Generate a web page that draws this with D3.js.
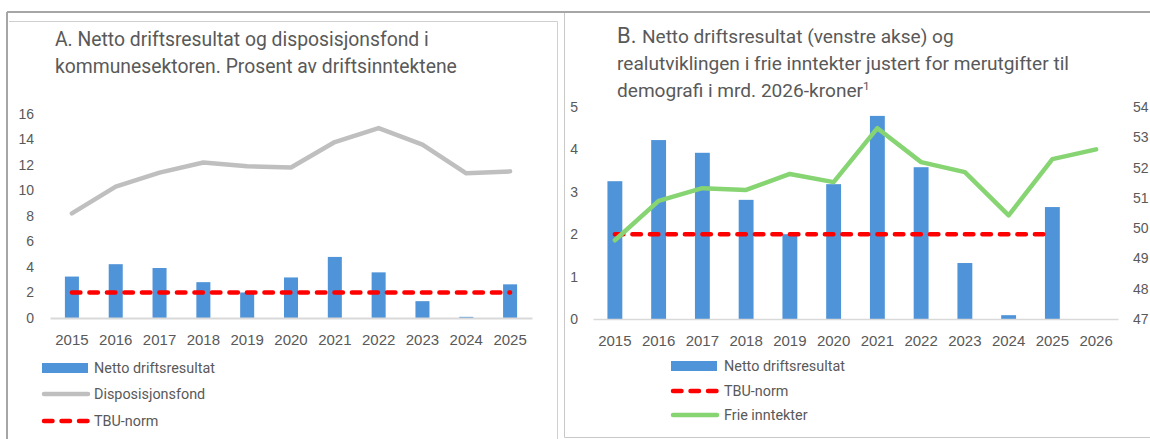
<!DOCTYPE html>
<html>
<head>
<meta charset="utf-8">
<script src="https://cdn.jsdelivr.net/npm/d3@7"></script>
<style>
  body { margin: 0; background: #fff; }
  svg text { fill: #595959; }
  .tick text { font-family: "Liberation Sans", Arial, sans-serif; }
  .title, .legend-label { font-family: Roboto, "Open Sans", sans-serif; }
</style>
</head>
<body>
<div id="graphic"></div>
<script>
(function(d3){

    // Categories
    let yearsA = [2015, 2016, 2017, 2018, 2019, 2020, 2021, 2022, 2023, 2024, 2025];
    let yearsB = [2015, 2016, 2017, 2018, 2019, 2020, 2021, 2022, 2023, 2024, 2025, 2026];

    // Series
    let nettoDriftsresultat = [3.25, 4.22, 3.92, 2.81, 2.0, 3.18, 4.79, 3.58, 1.32, 0.09, 2.64];
    let disposisjonsfond = [8.2, 10.3, 11.4, 12.2, 11.9, 11.8, 13.8, 14.9, 13.6, 11.35, 11.5];
    let tbuNorm = [2, 2, 2, 2, 2, 2, 2, 2, 2, 2, 2];
    let frieInntekter = [49.6, 50.9, 51.32, 51.26, 51.79, 51.52, 53.3, 52.18, 51.85, 50.42, 52.28, 52.6];

    // Tick values
    let ticksA = [0, 2, 4, 6, 8, 10, 12, 14, 16];
    let ticksBLeft = [0, 1, 2, 3, 4, 5];
    let ticksBRight = [47, 48, 49, 50, 51, 52, 53, 54];

    // Titles and legend labels
    let titleA = ['A. Netto driftsresultat og disposisjonsfond i',
                  'kommunesektoren. Prosent av driftsinntektene'];
    let titleB = ['Netto driftsresultat (venstre akse) og',
                  'realutviklingen i frie inntekter justert for merutgifter til',
                  'demografi i mrd. 2026-kroner'];
    let legendA = ['Netto driftsresultat', 'Disposisjonsfond', 'TBU-norm'];
    let legendB = ['Netto driftsresultat', 'TBU-norm', 'Frie inntekter'];

    // Colours
    let blue = '#4f93d8', gray = '#bfbfbf', red = '#ff0000', green = '#86d472';
    let dash = '8.5 9';

    let width = 1150, height = 439;

    let svg = d3.select('#graphic')
                .append('svg')
                .attr('width', width)
                .attr('height', height);

    // Frames around the two panels
    function frameLine(x1, y1, x2, y2, color, w) {
        svg.append('line')
           .attr('x1', x1).attr('y1', y1).attr('x2', x2).attr('y2', y2)
           .attr('stroke', color).attr('stroke-width', w);
    }
    frameLine(7, 12, width, 12, '#a6a6a6', 2);
    frameLine(7, 12, 7, height, '#a6a6a6', 2);
    frameLine(9, 21.5, 557.5, 21.5, '#d0d0d0', 1);
    frameLine(557.5, 21.5, 557.5, height, '#d0d0d0', 1);
    frameLine(564.5, 13, 564.5, 437.5, '#c8c8c8', 1);
    frameLine(564.5, 437.5, width, 437.5, '#c8c8c8', 1);

    // Fit a group of text lines so the longest has the target width
    function fitLines(sel, target) {
        let maxLen = 0;
        sel.each(function() { maxLen = Math.max(maxLen, this.getComputedTextLength()); });
        let fs = parseFloat(sel.style('font-size'));
        sel.style('font-size', (fs * target / maxLen) + 'px');
        return fs * target / maxLen;
    }

    function styleAxis(g, size) {
        g.select('.domain').remove();
        g.selectAll('.tick line').remove();
        g.selectAll('.tick text').style('font-size', size + 'px').attr('fill', '#595959');
    }

    // ---------- Panel A ----------
    let xA = d3.scaleBand().domain(yearsA).range([50, 532])
               .paddingInner(0.68).paddingOuter(0.34);
    let yA = d3.scaleLinear().domain([0, 16]).range([318, 114]);
    let cxA = (d, i) => xA(yearsA[i]) + xA.bandwidth() / 2;

    svg.append('g')
       .attr('transform', 'translate(50,0)')
       .call(d3.axisLeft(yA).tickValues(ticksA).tickFormat(d3.format('d')).tickSize(0).tickPadding(16))
       .call(g => styleAxis(g, 14));

    svg.append('g').selectAll('rect')
       .data(nettoDriftsresultat)
       .join('rect')
       .attr('x', (d, i) => xA(yearsA[i]))
       .attr('width', xA.bandwidth())
       .attr('y', d => yA(d))
       .attr('height', d => yA(0) - yA(d))
       .attr('fill', blue);

    let xAxisA = svg.append('g')
       .attr('transform', 'translate(0,318)')
       .call(d3.axisBottom(xA).tickSize(0).tickSizeOuter(0).tickPadding(16));
    xAxisA.select('.domain').attr('stroke', '#d9d9d9').attr('stroke-width', 2);
    xAxisA.selectAll('.tick text').style('font-size', '15px').attr('fill', '#595959');

    svg.append('path')
       .datum(disposisjonsfond)
       .attr('d', d3.line().x(cxA).y(d => yA(d)))
       .attr('fill', 'none')
       .attr('stroke', gray)
       .attr('stroke-width', 4.5)
       .attr('stroke-linejoin', 'round')
       .attr('stroke-linecap', 'round');

    svg.append('path')
       .datum(tbuNorm)
       .attr('d', d3.line().x(cxA).y(d => yA(d)))
       .attr('fill', 'none')
       .attr('stroke', red)
       .attr('stroke-width', 4.5)
       .attr('stroke-dasharray', dash)
       .attr('stroke-linecap', 'round');

    let tA = svg.append('g').selectAll('text')
       .data(titleA)
       .join('text')
       .attr('class', 'title')
       .attr('x', 55)
       .attr('y', (d, i) => 46 + i * 26.5)
       .style('font-size', '18px')
       .text(d => d);
    fitLines(tA, 402);

    // ---------- Panel B ----------
    let xB = d3.scaleBand().domain(yearsB).range([593, 1118])
               .paddingInner(0.66).paddingOuter(0.33);
    let yB = d3.scaleLinear().domain([0, 5]).range([319, 107]);
    let yB2 = d3.scaleLinear().domain([47, 54]).range([319, 107]);
    let cxB = (d, i) => xB(yearsB[i]) + xB.bandwidth() / 2;

    svg.append('g')
       .attr('transform', 'translate(593,0)')
       .call(d3.axisLeft(yB).tickValues(ticksBLeft).tickFormat(d3.format('d')).tickSize(0).tickPadding(15))
       .call(g => styleAxis(g, 14));

    svg.append('g')
       .attr('transform', 'translate(1118,0)')
       .call(d3.axisRight(yB2).tickValues(ticksBRight).tickFormat(d3.format('d')).tickSize(0).tickPadding(15))
       .call(g => styleAxis(g, 14));

    svg.append('g').selectAll('rect')
       .data(nettoDriftsresultat)
       .join('rect')
       .attr('x', (d, i) => xB(yearsB[i]))
       .attr('width', xB.bandwidth())
       .attr('y', d => yB(d))
       .attr('height', d => yB(0) - yB(d))
       .attr('fill', blue);

    let xAxisB = svg.append('g')
       .attr('transform', 'translate(0,319)')
       .call(d3.axisBottom(xB).tickSize(0).tickSizeOuter(0).tickPadding(16));
    xAxisB.select('.domain').attr('stroke', '#d9d9d9').attr('stroke-width', 1.5);
    xAxisB.selectAll('.tick text').style('font-size', '15px').attr('fill', '#595959');

    svg.append('path')
       .datum(tbuNorm)
       .attr('d', d3.line().x(cxB).y(d => yB(d)))
       .attr('fill', 'none')
       .attr('stroke', red)
       .attr('stroke-width', 4.5)
       .attr('stroke-dasharray', dash)
       .attr('stroke-linecap', 'round');

    svg.append('path')
       .datum(frieInntekter)
       .attr('d', d3.line().x(cxB).y(d => yB2(d)))
       .attr('fill', 'none')
       .attr('stroke', green)
       .attr('stroke-width', 4.5)
       .attr('stroke-linejoin', 'round')
       .attr('stroke-linecap', 'round');

    let tB = svg.append('g').selectAll('text')
       .data(titleB)
       .join('text')
       .attr('class', 'title')
       .attr('x', 617)
       .attr('y', (d, i) => 43 + i * 27)
       .style('font-size', '18px')
       .text(d => d);
    let fsB = fitLines(tB, 452);
    // "B." prefix, slightly larger, then the rest of the first line
    let first = tB.filter((d, i) => i === 0);
    first.text(null);
    first.append('tspan').style('font-size', (fsB * 1.15) + 'px').text('B. ');
    first.append('tspan').text(titleB[0]);
    let last = tB.filter((d, i) => i === 2);
    last.append('tspan')
        .attr('dy', -7)
        .style('font-size', (fsB * 0.62) + 'px')
        .text('1');

    // ---------- Legends ----------
    function legendRow(g, type, x, y, color) {
        if(type === 'bar') {
            g.append('rect').attr('x', x).attr('y', y - 5).attr('width', 46).attr('height', 10).attr('fill', color);
        } else {
            g.append('line')
             .attr('x1', x + 2).attr('x2', x + 46).attr('y1', y).attr('y2', y)
             .attr('stroke', color).attr('stroke-width', 4.5)
             .attr('stroke-linecap', 'round')
             .attr('stroke-dasharray', type === 'dash' ? dash : null);
        }
    }

    let legA = svg.append('g');
    let typesA = ['bar', 'line', 'dash'], colorsA = [blue, gray, red], rowsA = [368, 394, 421];
    legendA.forEach((label, i) => legendRow(legA, typesA[i], 42, rowsA[i], colorsA[i]));
    let legTextA = legA.selectAll('text')
       .data(legendA).join('text')
       .attr('class', 'legend-label')
       .attr('x', 94)
       .attr('y', (d, i) => rowsA[i])
       .attr('dy', '0.35em')
       .style('font-size', '15px')
       .text(d => d);

    let legB = svg.append('g');
    let typesB = ['bar', 'dash', 'line'], colorsB = [blue, red, green], rowsB = [366, 391, 415];
    legendB.forEach((label, i) => legendRow(legB, typesB[i], 671, rowsB[i], colorsB[i]));
    let legTextB = legB.selectAll('text')
       .data(legendB).join('text')
       .attr('class', 'legend-label')
       .attr('x', 724)
       .attr('y', (d, i) => rowsB[i])
       .attr('dy', '0.35em')
       .style('font-size', '15px')
       .text(d => d);

    fitLines(legTextA, 121);
    fitLines(legTextB, 121);

})(window.d3);
</script>
</body>
</html>
